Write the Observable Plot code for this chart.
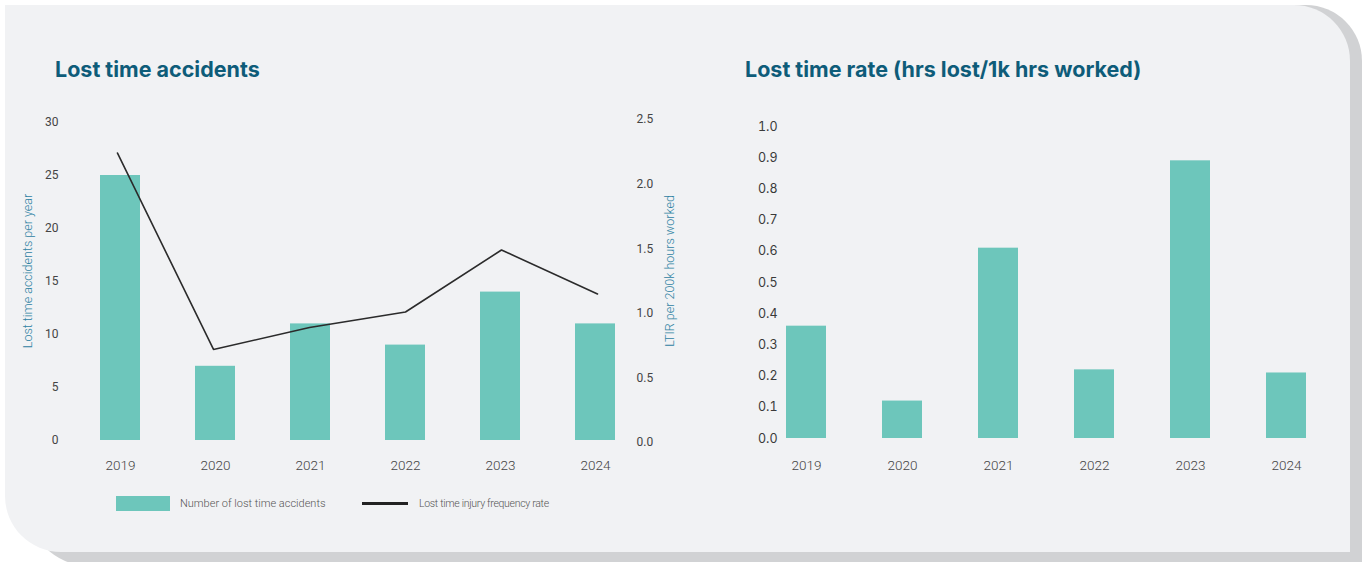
<!DOCTYPE html>
<html>
<head>
<meta charset="utf-8">
<script src="https://cdn.jsdelivr.net/npm/d3@7"></script>
<script src="https://cdn.jsdelivr.net/npm/@observablehq/plot@0.6"></script>
<style>
  html, body { margin: 0; padding: 0; background: #ffffff; }
  #page { position: relative; width: 1364px; height: 562px; overflow: hidden; }
  .shadow { position: absolute; left: 30px; top: 5px; width: 1332px; height: 560px;
            background: #d1d2d4; border-radius: 0 56px 0 56px; }
  .card { position: absolute; left: 5px; top: 5px; width: 1345px; height: 547px;
          background: #f1f2f4; border-radius: 0 56px 0 56px; }
  .title { position: absolute; font-family: Inter, Lato, sans-serif; font-weight: 700;
           font-size: 21.5px; line-height: 22px; color: #0e5c79; white-space: nowrap; }
  .ylab { position: absolute; font-family: Roboto, sans-serif; font-weight: 300; font-size: 12.5px;
          color: #2f82a3; white-space: nowrap; transform: translate(-50%, -50%) rotate(-90deg); }
  .plot { position: absolute; }
  .plot svg { overflow: visible; }
  .plot g[aria-label^="x-axis"] text { font-size: 13.5px; font-weight: 300; fill: #444; }
  .acc g[aria-label^="y-axis"] text { font-size: 12px; fill: #444; }
  .ltir g[aria-label^="y-axis"] text { font-size: 12px; fill: #444; }
  .rate g[aria-label^="y-axis"] text { font-family: Inter, sans-serif; font-size: 12.5px; fill: #3a3a3a; }
  .legend { position: absolute; font-family: Roboto, sans-serif; font-weight: 300; color: #555; white-space: nowrap; }
  .sw-bar { position: absolute; left: 116px; top: 496px; width: 54px; height: 15px; background: #6dc6bb; }
  .sw-line { position: absolute; left: 362px; top: 502px; width: 46px; height: 3px; background: #222; }
</style>
</head>
<body>
<div id="page">
  <div class="shadow"></div>
  <div class="card"></div>
  <div class="title" style="left:55px; top:58px;">Lost time accidents</div>
  <div class="title" style="left:745px; top:58px;">Lost time rate (hrs lost/1k hrs worked)</div>
  <div class="ylab" style="left:27px; top:271px;">Lost time accidents per year</div>
  <div class="ylab" style="left:669px; top:271px;">LTIR per 200k hours worked</div>
  <div id="acc" class="plot" style="left:0px; top:100px;"></div>
  <div id="ltir" class="plot" style="left:0px; top:100px;"></div>
  <div id="rate" class="plot" style="left:700px; top:100px;"></div>
  <div class="sw-bar"></div>
  <div class="legend" style="left:180px; top:496px; font-size:11px; line-height:15px;">Number of lost time accidents</div>
  <div class="sw-line"></div>
  <div class="legend" style="left:419px; top:496px; font-size:10.5px; line-height:15px; letter-spacing:-0.3px;">Lost time injury frequency rate</div>
</div>
<script>
// Yearly safety figures
const years = ["2019", "2020", "2021", "2022", "2023", "2024"];
const accidents = [25, 7, 11, 9, 14, 11];              // lost time accidents per year
const ltir = [2.24, 0.72, 0.89, 1.01, 1.49, 1.15];      // LTIR per 200k hours worked
const lostTimeRate = [0.36, 0.12, 0.61, 0.22, 0.89, 0.21]; // hrs lost per 1k hrs worked

// Tick values
const accidentTicks = [0, 5, 10, 15, 20, 25, 30];
const ltirTicks = [0, 0.5, 1.0, 1.5, 2.0, 2.5];
const rateTicks = [0, 0.1, 0.2, 0.3, 0.4, 0.5, 0.6, 0.7, 0.8, 0.9, 1.0];

const barColor = "#6dc6bb";
const accData = years.map((year, i) => ({year, count: accidents[i], ltir: ltir[i]}));
const rateData = years.map((year, i) => ({year, rate: lostTimeRate[i]}));

const baseStyle = {background: "transparent", fontFamily: "Roboto, sans-serif", fontSize: "13px", color: "#4d4d4d"};

// Shared band layout for the accidents chart and its LTIR overlay
const xAcc = {domain: years, range: [69.2, 645.3], paddingInner: 0.58, paddingOuter: 0.3};

const accPlot = Plot.plot({
  className: "acc",
  width: 690, height: 390,
  marginTop: 22, marginBottom: 50, marginLeft: 66, marginRight: 60,
  style: baseStyle,
  x: {...xAcc, label: null, tickSize: 0, tickPadding: 20},
  y: {domain: [0, 30], ticks: accidentTicks, tickFormat: d => String(d), tickSize: 0, tickPadding: 8, label: null},
  marks: [
    Plot.barY(accData, {x: "year", y: "count", fill: barColor})
  ]
});
document.getElementById("acc").appendChild(accPlot);

// LTIR line on its own right-hand scale
const ltirPlot = Plot.plot({
  className: "ltir",
  width: 690, height: 390,
  marginTop: 19, marginBottom: 48, marginLeft: 66, marginRight: 60,
  style: baseStyle,
  x: {...xAcc, axis: null},
  y: {domain: [0, 2.5], axis: "right", ticks: ltirTicks, tickFormat: d => d.toFixed(1), tickSize: 0, tickPadding: 6, label: null},
  marks: [
    Plot.line(accData, {x: "year", y: "ltir", stroke: "#2b2b2b", strokeWidth: 1.6})
  ]
});
document.getElementById("ltir").appendChild(ltirPlot);

// Lost time rate chart
const ratePlot = Plot.plot({
  className: "rate",
  width: 660, height: 390,
  marginTop: 26, marginBottom: 52, marginLeft: 85, marginRight: 20,
  style: baseStyle,
  x: {domain: years, range: [55, 637.1], paddingInner: 0.587, paddingOuter: 0.3, label: null, tickSize: 0, tickPadding: 22},
  y: {domain: [0, 1], ticks: rateTicks, tickFormat: d => d.toFixed(1), tickSize: 0, tickPadding: 8, label: null},
  marks: [
    Plot.barY(rateData, {x: "year", y: "rate", fill: barColor})
  ]
});
document.getElementById("rate").appendChild(ratePlot);
</script>
</body>
</html>
